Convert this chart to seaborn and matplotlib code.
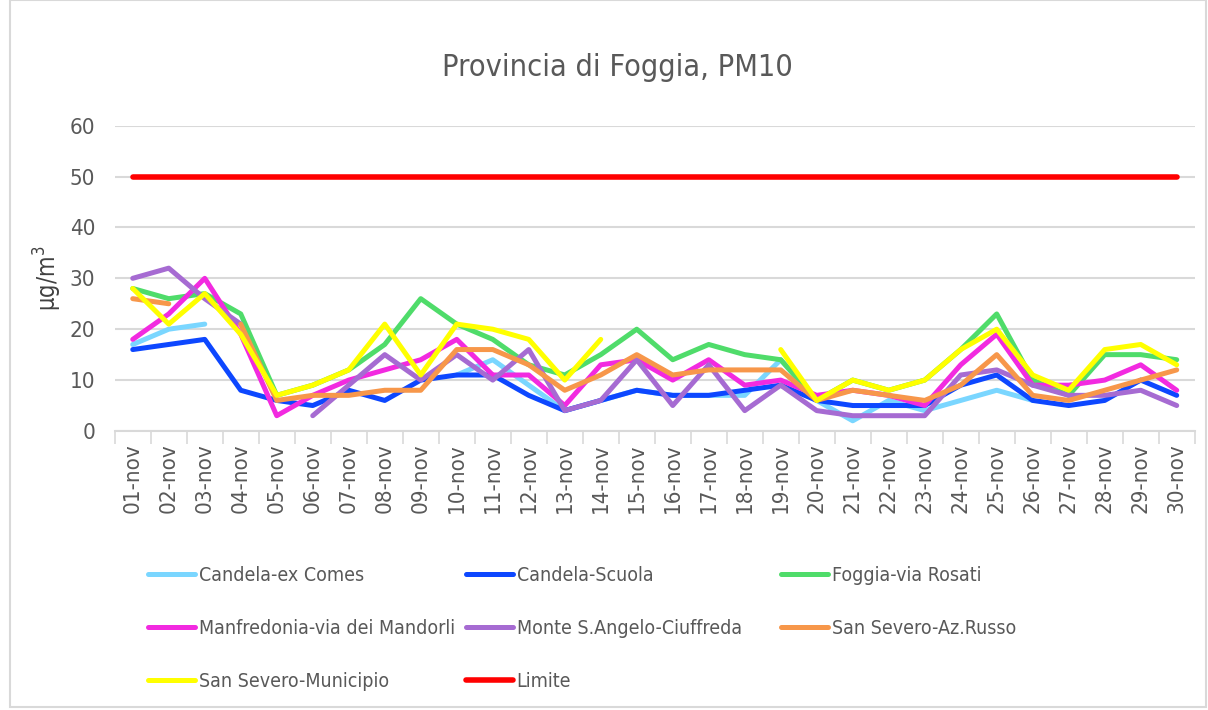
import numpy as np
import pandas as pd
import matplotlib
matplotlib.use("Agg")
import matplotlib.pyplot as plt
from matplotlib.lines import Line2D
from matplotlib.patches import Rectangle
import seaborn as sns

# Data (PM10, novembre)
days = [f"{d:02d}-nov" for d in range(1, 31)]
nan = np.nan

candela_ex_comes = [17, 20, 21, nan, nan, nan, nan, nan, nan, 11,
                    14, 9, 4, 6, 8, 7, 7, 7, 14, 6,
                    2, 6, 4, 6, 8, 6, nan, nan, nan, nan]
candela_scuola = [16, 17, 18, 8, 6, 5, 8, 6, 10, 11,
                  11, 7, 4, 6, 8, 7, 7, 8, 9, 6,
                  5, 5, 5, 9, 11, 6, 5, 6, 10, 7]
foggia_rosati = [28, 26, 27, 23, 7, 9, 12, 17, 26, 21,
                 18, 13, 11, 15, 20, 14, 17, 15, 14, 6,
                 10, 8, 10, 16, 23, 10, 7, 15, 15, 14]
manfredonia = [18, 23, 30, 19, 3, 7, 10, 12, 14, 18,
               11, 11, 5, 13, 14, 10, 14, 9, 10, 7,
               8, 7, 5, 13, 19, 9, 9, 10, 13, 8]
monte_s_angelo = [30, 32, 26, 21, nan, 3, 9, 15, 10, 15,
                  10, 16, 4, 6, 14, 5, 13, 4, 9, 4,
                  3, 3, 3, 11, 12, 9, 7, 7, 8, 5]
san_severo_russo = [26, 25, nan, 21, 6, 7, 7, 8, 8, 16,
                    16, 13, 8, 11, 15, 11, 12, 12, 12, 6,
                    8, 7, 6, 9, 15, 7, 6, 8, 10, 12]
san_severo_municipio = [28, 21, 27, 19, 7, 9, 12, 21, 11, 21,
                        20, 18, 10, 18, nan, nan, nan, nan, 16, 6,
                        10, 8, 10, 16, 20, 11, 8, 16, 17, 13]
limite = [50] * 30

series = [
    ("Candela-ex Comes", candela_ex_comes, "#7ad6ff"),
    ("Candela-Scuola", candela_scuola, "#0d47ff"),
    ("Foggia-via Rosati", foggia_rosati, "#4fdc6a"),
    ("Manfredonia-via dei Mandorli", manfredonia, "#f22ae0"),
    ("Monte S.Angelo-Ciuffreda", monte_s_angelo, "#a66bd2"),
    ("San Severo-Az.Russo", san_severo_russo, "#f7974a"),
    ("San Severo-Municipio", san_severo_municipio, "#ffff00"),
    ("Limite", limite, "#ff0000"),
]

sns.set_theme(style="white")
plt.rcParams['font.family'] = ['DejaVu Sans']
plt.rcParams['font.stretch'] = 'condensed'
text_col = "#595959"
grid_col = "#d9d9d9"

fig = plt.figure(figsize=(12.08, 7.1), dpi=100)
ax = fig.add_axes([0.095, 0.393, 0.894, 0.430])

x = np.arange(len(days))
handles = {}
for name, vals, col in series:
    df = pd.DataFrame({"x": x, "y": vals})
    # split at missing values so gaps stay open
    df["seg"] = df["y"].isna().cumsum()
    df = df.dropna()
    lw = 4.0 if name == "Limite" else 3.6
    for _, seg in df.groupby("seg"):
        sns.lineplot(data=seg, x="x", y="y", ax=ax, color=col, lw=lw,
                     estimator=None, sort=False, legend=False)
    handles[name] = Line2D([], [], color=col, lw=lw)

ax.set_xlim(-0.5, len(days) - 0.5)
ax.set_ylim(0, 60)
ax.set_yticks(range(0, 61, 10))
ax.yaxis.grid(True, color=grid_col, lw=1.5)
ax.set_xticks(x)
ax.set_xticklabels(days, rotation=90, fontsize=16, color=text_col)
ax.set_xticks(np.arange(-0.5, len(days), 1), minor=True)
ax.tick_params(axis="x", which="major", length=0, pad=9)
ax.tick_params(axis="x", which="minor", length=9, width=1.2, color=grid_col, bottom=True)
ax.tick_params(axis="y", length=0, labelsize=16, labelcolor=text_col, pad=14)
for s in ["top", "right", "left"]:
    ax.spines[s].set_visible(False)
ax.spines["bottom"].set_color(grid_col)
ax.spines["bottom"].set_linewidth(1.5)
ax.set_xlabel("")
ax.set_ylabel("μg/m$^3$", fontsize=17, color="#404040", labelpad=4)

fig.suptitle("Provincia di Foggia, PM10", x=0.511, y=0.925, fontsize=22, color=text_col)

# legend: three columns, placed one by one
columns = [
    (["Candela-ex Comes", "Manfredonia-via dei Mandorli", "San Severo-Municipio"], 148),
    (["Candela-Scuola", "Monte S.Angelo-Ciuffreda", "Limite"], 466),
    (["Foggia-via Rosati", "San Severo-Az.Russo"], 781),
]
for names, px in columns:
    leg = fig.legend([handles[n] for n in names], names, frameon=False,
                     loc="upper left", bbox_to_anchor=(px / 1208, 1 - 566 / 710),
                     fontsize=14, handlelength=2.4, handletextpad=0.2,
                     labelspacing=1.75, borderpad=0, borderaxespad=0)
    for t in leg.get_texts():
        t.set_color(text_col)

fig.add_artist(Rectangle((0.008, 0.004), 0.99, 0.996, transform=fig.transFigure,
                         fill=False, edgecolor=grid_col, lw=1.5))

fig.savefig("out.png", dpi=100)
